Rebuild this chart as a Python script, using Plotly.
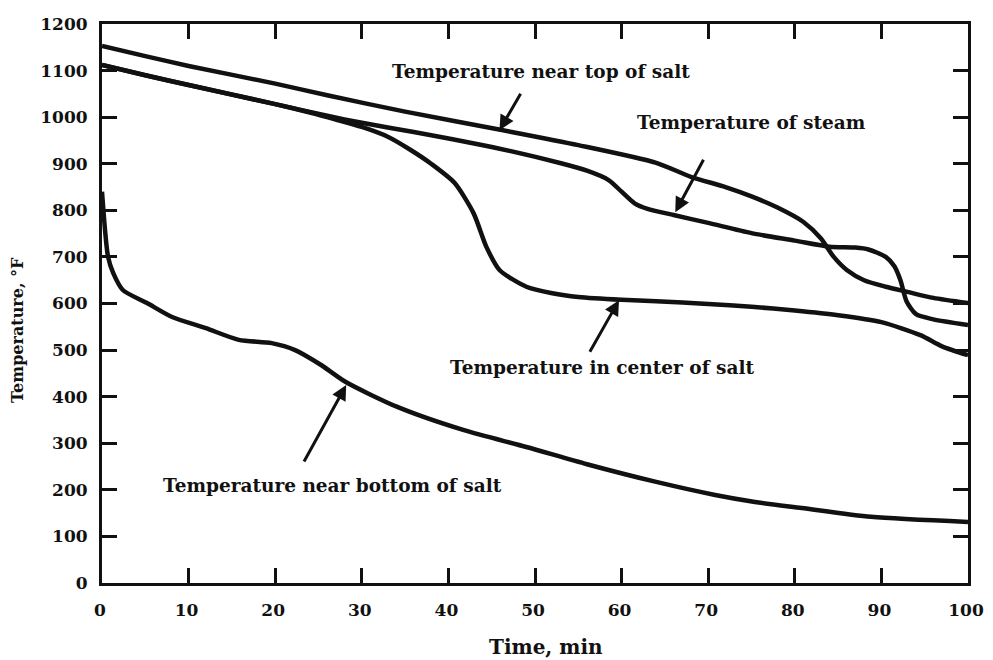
import plotly.graph_objects as go

# readings from the chart (time in min, temperature in degF)
time_top = [0, 5, 10, 20, 26, 35, 46, 55, 64, 68, 72, 75, 78, 81, 83, 84.5, 86, 88, 90.5, 93, 96, 100]
temp_top = [1153, 1131, 1110, 1072, 1047, 1012, 973, 940, 902, 872, 850, 830, 806, 775, 740, 700, 672, 650, 636, 625, 612, 601]

time_steam = [0, 5, 10, 20, 26, 30, 36, 45, 53, 56, 58.5, 60, 61.5, 63, 66, 70, 75, 80, 84, 87, 88.5,
              90.5, 91.5, 92.2, 92.9, 94, 96, 100]
temp_steam = [1112, 1090, 1069, 1028, 1003, 988, 968, 936, 901, 885, 865, 840, 815, 803, 790, 773, 751, 735,
              722, 720, 716, 700, 680, 650, 605, 577, 566, 554]

time_center = [0, 5, 10, 20, 24, 27, 30, 33, 35.6, 38, 40.7, 42.9, 44.4, 45.9, 49, 52, 55, 60, 64, 70, 75,
               80, 85, 90, 94.5, 97, 100]
temp_center = [1112, 1090, 1069, 1028, 1010, 995, 979, 958, 930, 900, 859, 794, 721, 672, 636, 622, 614, 608,
               605, 599, 593, 585, 575, 560, 532, 508, 489]

time_bottom = [0, 0.7, 1.3, 2.4, 5.2, 8.1, 12, 15.8, 19.6, 22.3, 25.3, 28.1, 34.1, 41.8, 49, 56, 64, 70.8,
               75.4, 80.8, 88.8, 100]
temp_bottom = [840, 700, 665, 629, 601, 571, 547, 522, 515, 500, 468, 432, 378, 328, 292, 255, 217, 189,
               174, 161, 142, 131]

x_ticks = [0, 10, 20, 30, 40, 50, 60, 70, 80, 90, 100]
y_ticks = [0, 100, 200, 300, 400, 500, 600, 700, 800, 900, 1000, 1100, 1200]

# label text and its centre (data units)
labels = [
    ("Temperature near top of salt", 50.7, 1097),
    ("Temperature of steam", 75.0, 988),
    ("Temperature in center of salt", 57.7, 462),
    ("Temperature near bottom of salt", 26.6, 210),
]
# arrow tip (data) and tail offset (px)
arrows = [
    (45.9, 972, 22, -38),
    (66.2, 796, 29, -54),
    (59.7, 607, -30, 53),
    (28.2, 425, -43, 78),
]

ink = "#111111"
serif = dict(family="DejaVu Serif", weight="bold", color=ink)

fig = go.Figure()
for xs, ys in [(time_top, temp_top), (time_steam, temp_steam),
               (time_center, temp_center), (time_bottom, temp_bottom)]:
    fig.add_trace(go.Scatter(x=xs, y=ys, mode="lines",
                             line=dict(color=ink, width=4.5, shape="spline", smoothing=0.7),
                             showlegend=False, hoverinfo="skip"))

for text, x, y in labels:
    fig.add_annotation(x=x, y=y, text=text, showarrow=False,
                       font=dict(serif, size=18.5))
for x, y, ax, ay in arrows:
    fig.add_annotation(x=x, y=y, text="", showarrow=True, ax=ax, ay=ay,
                       arrowhead=2, arrowsize=1, arrowwidth=3, arrowcolor=ink)

fig.add_annotation(xref="paper", yref="paper", x=-0.097, y=0.4526, xanchor="center", yanchor="middle",
                   text="Temperature, °F", textangle=-90, showarrow=False, font=dict(serif, size=16))
fig.add_annotation(xref="paper", yref="paper", x=0.513, y=-0.115, xanchor="center", yanchor="middle",
                   text="Time, min", showarrow=False, font=dict(serif, size=20))

axis = dict(showline=True, linewidth=3, linecolor=ink, mirror="ticks",
            ticks="inside", ticklen=15, tickwidth=3, tickcolor=ink,
            showgrid=False, zeroline=False, tickfont=dict(serif, size=17),
            automargin=False)
fig.update_xaxes(axis, range=[0, 100], tickvals=x_ticks, ticklabelstandoff=10, ticklabelshift=-2)
fig.update_yaxes(axis, range=[0, 1200], tickvals=y_ticks, ticklabelstandoff=8)

# page body has an 8px margin; the right margin keeps the "100" label visible
fig.update_layout(width=985, height=652, plot_bgcolor="white", paper_bgcolor="white",
                  margin=dict(l=94, r=25, t=16, b=77))
fig.write_html("out.html")
